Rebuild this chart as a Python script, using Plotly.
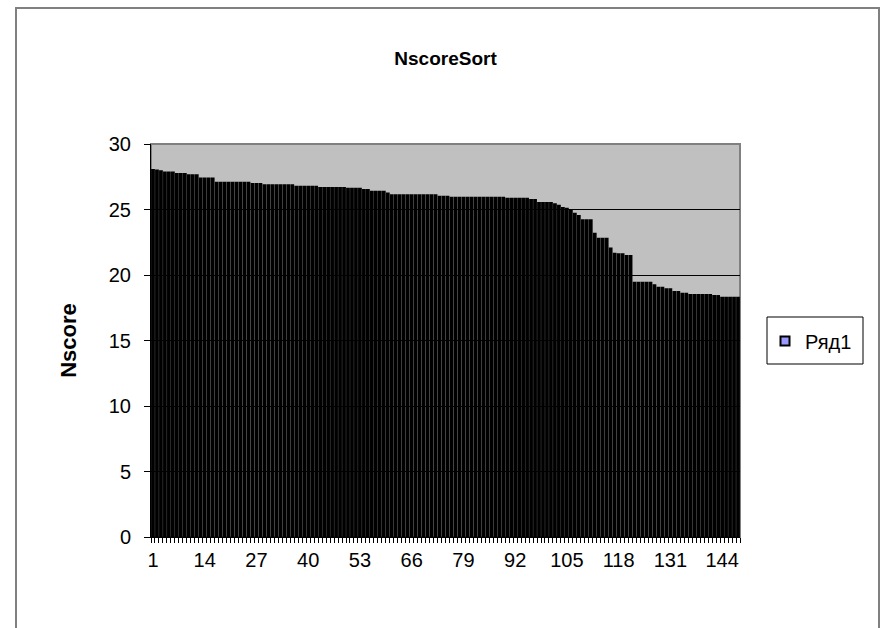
import plotly.graph_objects as go

# ---- data ----
scores = [
    28.10, 28.05, 28.00, 27.90, 27.90, 27.90, 27.78, 27.78, 27.78, 27.70,
    27.70, 27.70, 27.45, 27.45, 27.45, 27.45, 27.12, 27.12, 27.12, 27.12,
    27.12, 27.12, 27.12, 27.12, 27.12, 27.02, 27.02, 27.02, 26.92, 26.92,
    26.92, 26.92, 26.92, 26.92, 26.92, 26.92, 26.82, 26.82, 26.82, 26.82,
    26.82, 26.82, 26.72, 26.72, 26.72, 26.72, 26.72, 26.72, 26.72, 26.66,
    26.66, 26.66, 26.66, 26.56, 26.56, 26.44, 26.44, 26.44, 26.44, 26.30,
    26.16, 26.16, 26.16, 26.16, 26.16, 26.16, 26.16, 26.16, 26.16, 26.16,
    26.16, 26.16, 26.05, 26.05, 26.05, 25.98, 25.98, 25.98, 25.98, 25.98,
    25.98, 25.98, 25.98, 25.98, 25.98, 25.98, 25.98, 25.98, 25.98, 25.90,
    25.90, 25.90, 25.90, 25.90, 25.90, 25.80, 25.80, 25.57, 25.57, 25.57,
    25.57, 25.47, 25.37, 25.20, 25.14, 25.00, 24.76, 24.58, 24.25, 24.25,
    24.25, 23.23, 22.85, 22.85, 22.85, 22.10, 21.70, 21.66, 21.66, 21.53,
    21.53, 19.49, 19.49, 19.49, 19.49, 19.49, 19.30, 19.10, 19.10, 18.98,
    18.98, 18.78, 18.78, 18.65, 18.65, 18.55, 18.55, 18.55, 18.55, 18.55,
    18.55, 18.47, 18.47, 18.34, 18.34, 18.34, 18.34, 18.34,
]
index = list(range(1, len(scores) + 1))
x_tick_vals = [1, 14, 27, 40, 53, 66, 79, 92, 105, 118, 131, 144]
x_tick_text = [str(v) for v in x_tick_vals]
y_tick_vals = [0, 5, 10, 15, 20, 25, 30]
title_text = "NscoreSort"
y_title = "Nscore"
series_name = "Ряд1"

FONT = "Arial, 'Liberation Sans', sans-serif"

# plot area in px
L, R, T, B = 151, 740, 144, 537
W, H = 880, 628
pw, ph = R - L, B - T

def px_x(x):
    return (x - L) / pw

def px_y(y):
    return (B - y) / ph

fig = go.Figure()
fig.add_trace(go.Bar(
    x=index, y=scores, marker=dict(color="#000000", line=dict(width=0)),
    showlegend=False, hoverinfo="x+y",
))
fig.add_trace(go.Scatter(
    x=[None], y=[None], mode="markers", name=series_name,
    marker=dict(symbol="square", size=9, color="#9999FF",
                line=dict(color="#000000", width=2)),
))

fig.update_layout(
    width=W, height=H, autosize=False,
    margin=dict(l=L, r=W - R, t=T, b=H - B, pad=0),
    paper_bgcolor="#FFFFFF", plot_bgcolor="#C0C0C0",
    bargap=0.05,
    font=dict(family=FONT, size=20, color="#000000"),
    title=dict(text="<b>" + title_text + "</b>", x=0.5, xref="paper",
               y=1 - 58 / H, yanchor="middle", yref="container",
               font=dict(family=FONT, size=19, color="#000000")),
    xaxis=dict(
        range=[0.5, len(scores) + 0.5], tickmode="array",
        tickvals=x_tick_vals, ticktext=x_tick_text,
        ticks="outside", ticklen=5, tickcolor="rgba(0,0,0,0)",
        showgrid=False, zeroline=False,
        showline=True, linecolor="#000000", linewidth=1,
        minor=dict(ticks="outside", tick0=0.5, dtick=1, ticklen=5,
                   tickcolor="#000000", tickwidth=1, showgrid=False),
        tickfont=dict(family=FONT, size=20),
        fixedrange=True,
    ),
    yaxis=dict(
        range=[0, 30], tickmode="array", tickvals=y_tick_vals,
        ticks="outside", ticklen=6, tickcolor="#000000",
        ticklabelstandoff=9,
        showgrid=True, gridcolor="#000000", gridwidth=1,
        zeroline=False, showline=True, linecolor="#000000", linewidth=1,
        tickfont=dict(family=FONT, size=20),
        title=dict(text="<b>" + y_title + "</b>", standoff=26,
                   font=dict(family=FONT, size=22)),
        fixedrange=True,
    ),
    legend=dict(
        x=px_x(765), y=px_y(341), xanchor="left", yanchor="middle",
        bgcolor="rgba(0,0,0,0)", borderwidth=0,
        font=dict(family=FONT, size=20), itemwidth=30,
    ),
    shapes=[
        # plot area border
        dict(type="rect", xref="paper", yref="paper", x0=0, x1=1, y0=0, y1=1,
             line=dict(color="#808080", width=2), layer="below"),
        # legend box
        dict(type="rect", xref="paper", yref="paper",
             x0=px_x(767), x1=px_x(863), y0=px_y(364), y1=px_y(317),
             line=dict(color="#000000", width=1), fillcolor="#FFFFFF"),
        # chart outer border
        dict(type="rect", xref="paper", yref="paper",
             x0=px_x(16), x1=px_x(879), y0=px_y(660), y1=px_y(8),
             line=dict(color="#808080", width=2)),
    ],
)

fig.write_html("out.html")
